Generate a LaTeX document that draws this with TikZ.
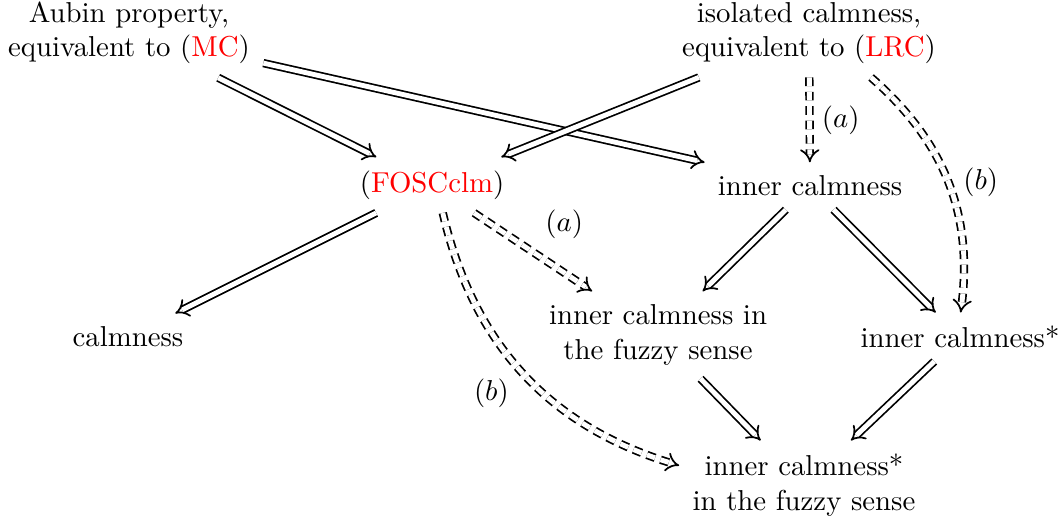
\documentclass[tikz,border=0pt]{standalone}
\usetikzlibrary{arrows.meta}
\begin{document}
\begin{tikzpicture}[x=0.3472pt,y=-0.3472pt,
  lbl/.style={align=center,inner sep=4.5pt},
  imp/.style={double,double distance=1.7pt,line width=0.6pt,-{Implies[]}},
  dimp/.style={imp,dash pattern=on 3pt off 2pt},
  tag/.style={inner sep=1pt}]
\useasboundingbox (0,0) rectangle (1063,525);
\node[lbl] (aubin) at (129,33) {Aubin property,\\equivalent to (\textcolor{red}{MC})};
\node[lbl] (iso) at (809,33) {isolated calmness,\\equivalent to (\textcolor{red}{LRC})};
\node[lbl] (fosc) at (432,185) {(\textcolor{red}{FOSCclm})};
\node[lbl] (inner) at (810,186) {inner calmness};
\node[lbl] (calm) at (128,337) {calmness};
\node[lbl] (fuzzy) at (658,335) {inner calmness in\\the fuzzy sense};
\node[lbl] (star) at (960,337) {inner calmness*};
\node[lbl] (starfuzzy) at (804,485) {inner calmness*\\in the fuzzy sense};
\draw[imp] (aubin) -- (fosc);
\draw[imp] (aubin) -- (inner);
\draw[imp] (iso) -- (fosc);
\draw[dimp] (iso) -- node[tag,right=3pt] {$(a)$} (inner);
\draw[dimp] (iso) to[bend left=28] node[tag,right=4pt,pos=0.5] {$(b)$} (star);
\draw[imp] (fosc) -- (calm);
\draw[dimp] (fosc) -- node[tag,above right=2pt,xshift=3pt,pos=0.45] {$(a)$} (fuzzy);
\draw[dimp] (fosc) to[bend right=30] node[tag,below left=1pt,xshift=1pt,yshift=-4pt,pos=0.45] {$(b)$} (starfuzzy);
\draw[imp] (inner) -- (fuzzy);
\draw[imp] (inner) -- (star);
\draw[imp] (fuzzy) -- (starfuzzy);
\draw[imp] (star) -- (starfuzzy);
\end{tikzpicture}
\end{document}
